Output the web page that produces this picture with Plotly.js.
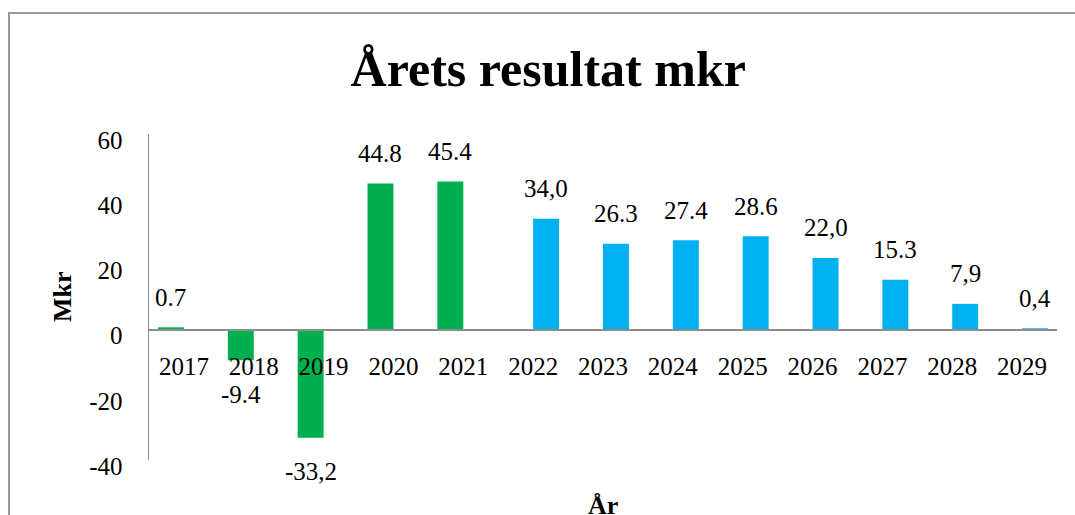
<!DOCTYPE html>
<html>
<head>
<meta charset="utf-8">
<script src="https://cdn.plot.ly/plotly-3.0.1.min.js"></script>
<style>
  html, body { margin: 0; padding: 0; background: #fff; }
  #wrap { position: relative; width: 1075px; height: 515px; overflow: hidden; }
  #chart { position: absolute; left: 0; top: 0; width: 1075px; height: 515px; }
  #frame { position: absolute; left: 8px; top: 12px; width: 1200px; height: 600px;
           border-left: 2px solid #9a9a9a; border-top: 2px solid #9a9a9a; pointer-events: none; }
</style>
</head>
<body>
<div id="wrap">
  <div id="chart"></div>
  <div id="frame"></div>
</div>
<script>
const years = ['2017','2018','2019','2020','2021','2022','2023','2024','2025','2026','2027','2028','2029'];
const actualValues = [0.7, -9.4, -33.2, 44.8, 45.4, null, null, null, null, null, null, null, null];
const forecastValues = [null, null, null, null, null, 34.0, 26.3, 27.4, 28.6, 22.0, 15.3, 7.9, 0.4];
const actualLabels = ['0.7', '-9.4', '-33,2', '44.8', '45.4', null, null, null, null, null, null, null, null];
const forecastLabels = [null, null, null, null, null, '34,0', '26.3', '27.4', '28.6', '22,0', '15.3', '7,9', '0,4'];
const yTickValues = [-40, -20, 0, 20, 40, 60];
const yTickLabels = ['-40', '-20', '0', '20', '40', '60'];
const chartTitle = 'Årets resultat mkr';
const yTitle = 'Mkr';
const xTitle = 'År';

const FONT = 'Liberation Serif, Times New Roman, serif';
const GREEN = '#00B050';
const BLUE = '#00B0F0';

const traces = [
  { type: 'bar', name: 'Utfall', x: years, y: actualValues, marker: { color: GREEN }, hoverinfo: 'skip' },
  { type: 'bar', name: 'Prognos', x: years, y: forecastValues, marker: { color: BLUE }, hoverinfo: 'skip' }
];

const annotations = [];
function addLabels(values, labels, xshift) {
  values.forEach((v, i) => {
    if (v === null || labels[i] === null) return;
    annotations.push({
      x: i, y: v, xref: 'x', yref: 'y',
      text: labels[i], showarrow: false,
      xanchor: 'center', yanchor: 'middle',
      xshift: xshift, yshift: v >= 0 ? 30 : -34,
      font: { family: FONT, size: 25, color: '#000' }
    });
  });
}
addLabels(actualValues, actualLabels, -13);
addLabels(forecastValues, forecastLabels, 13);

const W = 1075, H = 515;
const M = { l: 149, r: 18, t: 134, b: 55 };
const pw = W - M.l - M.r, ph = H - M.t - M.b;
function px2paperX(px) { return (px - M.l) / pw; }
function px2paperY(py) { return 1 - (py - M.t) / ph; }

annotations.push({
  x: px2paperX(62), y: px2paperY(297), xref: 'paper', yref: 'paper', text: '<b>' + yTitle + '</b>',
  showarrow: false, textangle: -90, xanchor: 'center', yanchor: 'middle',
  font: { family: FONT, size: 26, color: '#000' }
});
annotations.push({
  x: px2paperX(603), y: px2paperY(505), xref: 'paper', yref: 'paper', text: '<b>' + xTitle + '</b>',
  showarrow: false, xanchor: 'center', yanchor: 'middle',
  font: { family: FONT, size: 26, color: '#000' }
});

const layout = {
  width: W, height: H,
  margin: M,
  paper_bgcolor: 'rgba(0,0,0,0)',
  plot_bgcolor: 'rgba(0,0,0,0)',
  showlegend: false,
  barmode: 'group',
  bargap: 0.257,
  bargroupgap: 0,
  font: { family: FONT, size: 25, color: '#000' },
  title: {
    text: '<b>' + chartTitle + '</b>',
    font: { family: FONT, size: 50, color: '#000' },
    x: 0.51, xanchor: 'center',
    y: 1 - 68 / H, yanchor: 'middle', yref: 'container'
  },
  xaxis: {
    type: 'category',
    range: [-0.5, years.length - 0.5],
    anchor: 'free',
    position: 0.4,
    showline: true, linecolor: '#8c8c8c', linewidth: 2,
    ticks: '', showgrid: false, zeroline: false,
    ticklabelstandoff: 14,
    tickfont: { family: FONT, size: 25, color: '#000' },
    automargin: false
  },
  yaxis: {
    range: [-40, 60],
    tickvals: yTickValues, ticktext: yTickLabels,
    showline: true, linecolor: '#8c8c8c', linewidth: 1.5,
    ticks: '', showgrid: false, zeroline: false,
    ticklabelstandoff: 20,
    ticklabelshift: 6,
    tickfont: { family: FONT, size: 25, color: '#000' },
    automargin: false
  },
  annotations: annotations
};

Plotly.newPlot('chart', traces, layout, { displayModeBar: false, staticPlot: true });
</script>
</body>
</html>
